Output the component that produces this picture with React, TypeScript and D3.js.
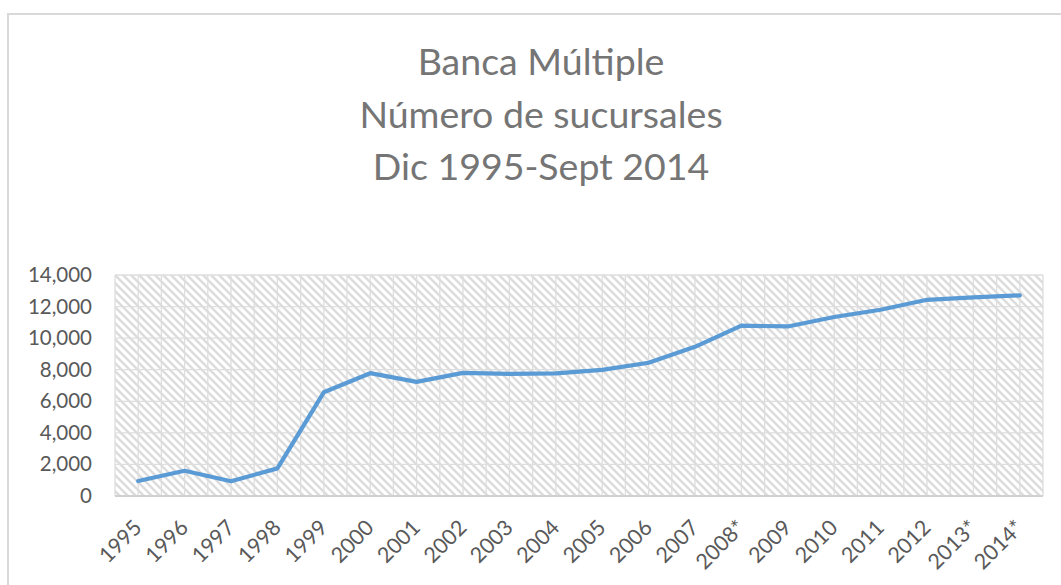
import React from "react";
import * as d3 from "d3";

const categories = ["1995","1996","1997","1998","1999","2000","2001","2002","2003","2004","2005","2006","2007","2008*","2009","2010","2011","2012","2013*","2014*"];
const values = [950,1600,930,1750,6570,7780,7230,7800,7740,7770,7990,8440,9450,10790,10740,11340,11800,12430,12580,12710];
const yTicks = [0,2000,4000,6000,8000,10000,12000,14000];
const titleLines = ["Banca Múltiple","Número de sucursales","Dic 1995-Sept 2014"];

const W = 1061, H = 585;
const plot = { left: 115, right: 1043, top: 275, bottom: 496 };

export default function App() {
  const x = d3.scaleBand<string>().domain(categories).range([plot.left, plot.right]).padding(0);
  const y = d3.scaleLinear().domain([0, 14000]).range([plot.bottom, plot.top]);
  const bw = x.bandwidth();
  const line = d3.line<number>().x((_, i) => (x(categories[i]) as number) + bw / 2).y(d => y(d));
  const fmt = d3.format(",");
  const vLines: number[] = [];
  categories.forEach(c => { const s = x(c) as number; vLines.push(s, s + bw / 2); });
  vLines.push(plot.right);
  const font = "Lato, 'Open Sans', sans-serif";
  return (
    <svg width={W} height={H} style={{ position: "absolute", left: 0, top: 0, background: "#fff" }}>
      <defs>
        <pattern id="hatch" width={8} height={8} patternUnits="userSpaceOnUse">
          <rect width={8} height={8} fill="#fff" />
          <path d="M-2,-2 L10,10 M-2,6 L2,10 M6,-2 L10,2" stroke="#dcdcdc" strokeWidth={2.4} />
        </pattern>
      </defs>
      <rect x={8} y={14} width={W + 20} height={H + 20} fill="#fff" stroke="#d9d9d9" strokeWidth={2} />
      {titleLines.map((t, i) => (
        <text key={t} x={541} y={75 + i * 52.5} textAnchor="middle" fontFamily={font} fontSize={37.5} fill="#757575">{t}</text>
      ))}
      <rect x={plot.left} y={plot.top} width={plot.right - plot.left} height={plot.bottom - plot.top} fill="url(#hatch)" />
      {yTicks.map(t => (
        <line key={"h" + t} x1={plot.left} x2={plot.right} y1={y(t)} y2={y(t)} stroke="#dedede" strokeWidth={1.3} />
      ))}
      {vLines.map((v, i) => (
        <line key={"v" + i} x1={v} x2={v} y1={plot.top} y2={plot.bottom} stroke="#dedede" strokeWidth={1.3} />
      ))}
      <line x1={plot.left} x2={plot.right} y1={plot.bottom} y2={plot.bottom} stroke="#d0d0d0" strokeWidth={2} />
      {yTicks.map(t => (
        <text key={"yl" + t} x={92} y={y(t) + 7} textAnchor="end" fontFamily={font} fontSize={20.5} fill="#595959">{fmt(t)}</text>
      ))}
      {categories.map(c => {
        const cx = (x(c) as number) + bw / 2 + 5;
        const cy = 529;
        return (
          <text key={"xl" + c} x={cx} y={cy} textAnchor="end" transform={`rotate(-45 ${cx} ${cy})`} fontFamily={font} fontSize={21.5} fill="#595959">{c}</text>
        );
      })}
      <path d={line(values) as string} fill="none" stroke="#5B9BD5" strokeWidth={4.2} strokeLinejoin="round" strokeLinecap="round" />
    </svg>
  );
}
